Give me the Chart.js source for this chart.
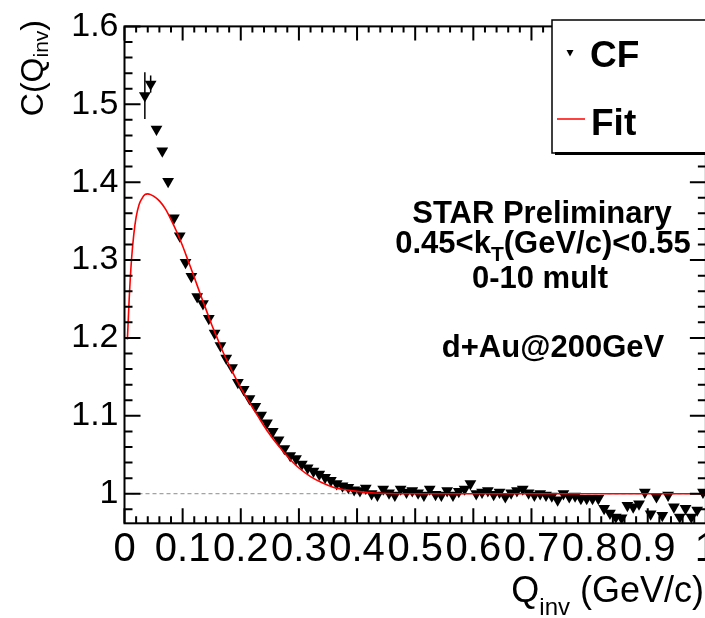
<!DOCTYPE html>
<html><head><meta charset="utf-8">
<script src="https://cdn.jsdelivr.net/npm/chart.js@4.4.1/dist/chart.umd.min.js"></script>
<style>html,body{margin:0;padding:0;overflow:hidden;background:#fff;width:705px;height:618px}canvas{display:block}</style>
</head><body><canvas id="c" width="720" height="618"></canvas>
<script>
// ---- data ----
const qInv = [0.035,0.045,0.055,0.065,0.075,0.085,0.095,0.105,0.115,0.125,0.135,0.145,0.155,0.165,0.175,0.185,0.195,
  0.205,0.215,0.225,0.235,0.245,0.255,0.265,0.275,0.285,0.295,0.305,0.315,0.325,0.335,0.345,0.355,0.365,0.375,0.385,0.395,
  0.405,0.415,0.425,0.435,0.445,0.455,0.465,0.475,0.485,0.495,0.505,0.515,0.525,0.535,0.545,0.555,0.565,0.575,0.585,0.595,
  0.605,0.615,0.625,0.635,0.645,0.655,0.665,0.675,0.685,0.695,0.705,0.715,0.725,0.735,0.745,0.755,0.765,0.775,0.785,0.795,
  0.805,0.815,0.825,0.835,0.845,0.855,0.865,0.875,0.885,0.895,0.905,0.915,0.925,0.935,0.945,0.955,0.965,0.975,0.985,0.995];
const cfValues = [1.511,1.526,1.468,1.440,1.401,1.354,1.331,1.297,1.279,1.253,1.244,1.225,1.206,1.190,1.174,1.162,1.143,
  1.134,1.122,1.112,1.101,1.091,1.080,1.069,1.058,1.049,1.045,1.038,1.033,1.029,1.025,1.021,1.017,1.013,1.010,1.008,1.005,
  1.004,1.007,1.000,0.998,1.006,1.001,0.998,1.006,1.002,1.004,1.001,0.998,1.006,0.999,0.998,1.004,0.998,1.003,1.006,1.013,
  1.000,1.002,1.004,0.999,1.002,0.996,1.001,1.004,1.006,1.001,0.998,1.000,0.998,0.997,0.992,1.000,0.996,0.997,0.994,0.994,
  0.994,0.994,0.981,0.975,0.970,0.969,0.985,0.983,0.987,1.002,0.974,0.996,0.972,0.998,0.983,0.970,0.981,0.970,0.979,1.002];
// visible error bars (first bins only; the rest are smaller than the marker)
const cfErrors = [0.030,0.011];

const fitQ = [0.005,0.008,0.012,0.016,0.02,0.025,0.03,0.035,0.04,0.045,0.05,0.06,0.07,0.08,0.09,0.10,0.11,0.12,0.13,0.14,
  0.15,0.16,0.17,0.18,0.19,0.20,0.21,0.22,0.23,0.24,0.25,0.26,0.27,0.28,0.29,0.30,0.32,0.34,0.36,0.38,0.40,0.43,0.47,0.55,0.70,0.85,1.0];
const fitValues = [1.198,1.249,1.300,1.333,1.355,1.371,1.379,1.384,1.385,1.384,1.382,1.376,1.366,1.352,1.336,1.318,1.298,1.278,1.257,1.237,
  1.217,1.199,1.181,1.165,1.150,1.136,1.123,1.111,1.099,1.087,1.076,1.066,1.057,1.048,1.040,1.033,1.022,1.014,1.008,1.005,1.003,1.001,1.000,1.000,1.000,1.000,1.000];

const refQ = [0, 1];
const refValues = [1, 1];

const xTickValues = [0,0.1,0.2,0.3,0.4,0.5,0.6,0.7,0.8,0.9,1];
const xTickLabels = ['0','0.1','0.2','0.3','0.4','0.5','0.6','0.7','0.8','0.9','1'];
const yTickValues = [1,1.1,1.2,1.3,1.4,1.5,1.6];
const yTickLabels = ['1','1.1','1.2','1.3','1.4','1.5','1.6'];

const F = '"Liberation Sans", Arial, Helvetica, sans-serif';

function drawRuns(ctx, runs, x, y) {
  let cx = x;
  runs.forEach(([t, f, dy]) => { ctx.font = f; ctx.fillText(t, cx, y + dy); cx += ctx.measureText(t).width; });
  return cx;
}
function runsWidth(ctx, runs) {
  let w = 0; runs.forEach(([t, f]) => { ctx.font = f; w += ctx.measureText(t).width; }); return w;
}

const rootPlugin = {
  id: 'rootStyle',
  beforeDatasetsDraw(chart) {
    const {ctx, scales: {x, y}} = chart;
    ctx.save(); ctx.strokeStyle = '#000'; ctx.lineWidth = 1.5;
    cfErrors.forEach((e, i) => {
      if (!e) return;
      const px = x.getPixelForValue(qInv[i]);
      ctx.beginPath();
      ctx.moveTo(px, y.getPixelForValue(cfValues[i] + e));
      ctx.lineTo(px, y.getPixelForValue(cfValues[i] - e));
      ctx.stroke();
    });
    ctx.restore();
  },
  afterDatasetsDraw(chart) {
    const {ctx, chartArea: a, scales: {x, y}} = chart;
    ctx.save();
    ctx.strokeStyle = '#000'; ctx.lineWidth = 2;
    ctx.strokeRect(a.left, a.top, a.right - a.left, a.bottom - a.top);
    ctx.beginPath();
    for (let k = 0; k <= 50; k++) {
      const px = x.getPixelForValue(k * 0.02);
      const L = k % 5 === 0 ? 15 : 7;
      ctx.moveTo(px, a.bottom); ctx.lineTo(px, a.bottom - L);
      ctx.moveTo(px, a.top); ctx.lineTo(px, a.top + L - 1);
    }
    for (let k = 49; k <= 80; k++) {
      const py = y.getPixelForValue(k * 0.02);
      const L = k % 5 === 0 ? 16 : 8;
      ctx.moveTo(a.left, py); ctx.lineTo(a.left + L, py);
      ctx.moveTo(a.right, py); ctx.lineTo(a.right - L, py);
    }
    ctx.stroke();
    ctx.restore();
  },
  afterDraw(chart) {
    const {ctx} = chart;
    ctx.save();
    // legend box
    ctx.fillStyle = '#fff'; ctx.fillRect(552, 20, 200, 133);
    ctx.strokeStyle = '#000'; ctx.lineWidth = 1.5; ctx.strokeRect(552, 20, 200, 133);
    ctx.fillStyle = '#000'; ctx.fillRect(555, 152, 200, 3);
    // legend marker
    ctx.beginPath(); ctx.moveTo(566.5, 50); ctx.lineTo(573.5, 50); ctx.lineTo(570, 56.5); ctx.closePath(); ctx.fill();
    ctx.strokeStyle = '#ff0000'; ctx.lineWidth = 1.5;
    ctx.beginPath(); ctx.moveTo(557, 119); ctx.lineTo(585, 119); ctx.stroke();
    ctx.fillStyle = '#000'; ctx.textBaseline = 'alphabetic'; ctx.textAlign = 'left';
    ctx.font = 'bold 37px ' + F;
    ctx.fillText('CF', 590, 67);
    ctx.fillText('Fit', 591, 135);

    // annotation text
    ctx.textAlign = 'center';
    ctx.font = 'bold 31px ' + F;
    ctx.fillText('STAR Preliminary', 542, 223);
    ctx.fillText('0-10 mult', 540, 288);
    ctx.fillText('d+Au@200GeV', 553, 357);
    ctx.textAlign = 'left';
    const kt = [['0.45<k', 'bold 31px ' + F, 0], ['T', 'bold 21px ' + F, 8], ['(GeV/c)<0.55', 'bold 31px ' + F, 0]];
    drawRuns(ctx, kt, 543 - runsWidth(ctx, kt) / 2, 253);

    // x-axis title
    const xt = [['Q', '36px ' + F, 0], ['inv', '24px ' + F, 13], [' (GeV/c)', '36px ' + F, 0]];
    drawRuns(ctx, xt, 704 - runsWidth(ctx, xt), 602);

    // y-axis title (rotated, right-aligned to the top of the frame)
    const yt = [['C(Q', '32px ' + F, 0], ['inv', '21px ' + F, 5], [')', '32px ' + F, 0]];
    ctx.translate(43, 20); ctx.rotate(-Math.PI / 2);
    drawRuns(ctx, yt, -runsWidth(ctx, yt), 0);
    ctx.restore();
  }
};

new Chart(document.getElementById('c'), {
  type: 'scatter',
  data: {
    datasets: [
      { label: 'Fit', data: fitQ.map((q, i) => ({x: q, y: fitValues[i]})), showLine: true,
        borderColor: '#ff0000', backgroundColor: '#ff0000', borderWidth: 1.6, pointRadius: 0,
        cubicInterpolationMode: 'monotone', order: 0 },
      { label: 'CF', data: qInv.map((q, i) => ({x: q, y: cfValues[i]})),
        pointStyle: 'triangle', rotation: 180, pointRadius: 6.8, backgroundColor: '#000',
        borderColor: '#000', borderWidth: 0, order: 1 },
      { label: 'ref', data: refQ.map((q, i) => ({x: q, y: refValues[i]})), showLine: true,
        borderColor: '#8c8c8c', borderWidth: 1, borderDash: [4, 3], pointRadius: 0, order: 2 }
    ]
  },
  options: {
    responsive: false, animation: false, devicePixelRatio: 1,
    layout: {padding: {left: 0, top: 20, right: 12.5, bottom: 0}},
    plugins: {legend: {display: false}, tooltip: {enabled: false}},
    scales: {
      x: {
        type: 'linear', min: 0, max: 1,
        grid: {display: false, drawTicks: false}, border: {display: false},
        afterFit(s) { s.height = 94.7; },
        afterBuildTicks(s) { s.ticks = xTickValues.map(v => ({value: v})); },
        ticks: {autoSkip: false, maxRotation: 0, minRotation: 0, padding: 3, color: '#000',
          font: {family: F, size: 40}, callback: (v, i) => xTickLabels[i]}
      },
      y: {
        type: 'linear', min: 0.962, max: 1.6,
        grid: {display: false, drawTicks: false}, border: {display: false},
        afterFit(s) { s.width = 124.5; },
        afterBuildTicks(s) { s.ticks = yTickValues.map(v => ({value: v})); },
        ticks: {autoSkip: false, padding: 6, color: '#000',
          font: {family: F, size: 34}, callback: (v, i) => yTickLabels[i]}
      }
    }
  },
  plugins: [rootPlugin]
});
</script>
</body></html>
